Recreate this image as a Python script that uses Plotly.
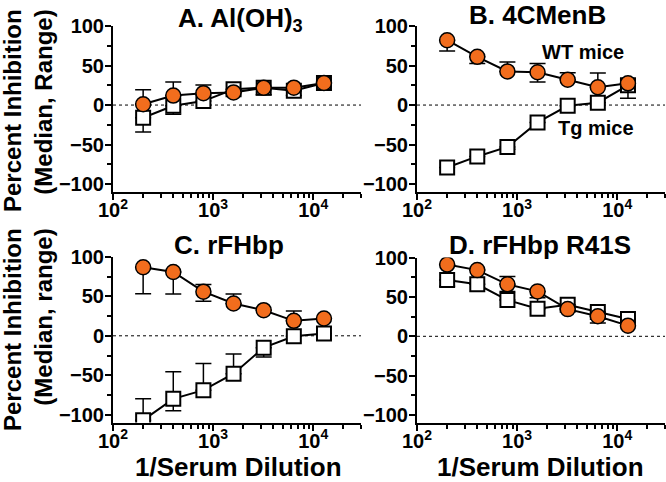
import plotly.graph_objects as go

# ---------------- data ----------------
dilution = [200, 400, 800, 1600, 3200, 6400, 12800]

# Panel A: Al(OH)3
wt_A = [1, 12, 15, 16, 22, 22, 28]
wt_A_plus = [18.5, 17, 10.5, 0, 0, 0, 0]
wt_A_minus = [0, 0, 0, 0, 0, 0, 0]
tg_A = [-16, -1, 5, 20, 22, 18, 28]
tg_A_plus = [0, 0, 0, 0, 0, 0, 0]
tg_A_minus = [18, 10.5, 0, 0, 9, 6, 0]

# Panel B: 4CMenB
wt_B = [82, 61, 42.5, 41.5, 32, 22.5, 27.5]
wt_B_plus = [0, 0, 12, 11, 9, 18, 0]
wt_B_minus = [13.5, 8.5, 0, 12.5, 0, 0, 19]
tg_B = [-79, -65, -53, -22, -1, 3, 25]
tg_B_plus = [0, 0, 0, 0, 0, 0, 8]
tg_B_minus = [0, 0, 3, 0, 0, 0, 0]

# Panel C: rFHbp
wt_C = [87, 81, 56, 41, 32.5, 19, 22]
wt_C_plus = [0, 0, 9, 12, 0, 12.5, 0]
wt_C_minus = [33.5, 28, 12, 0, 0, 0, 0]
tg_C = [-107, -80, -69, -48, -15, -0.5, 3]
tg_C_plus = [27, 34.5, 34, 25, 0, 0, 0]
tg_C_minus = [0, 15, 0, 0, 12, 0, 0]

# Panel D: rFHbp R41S
wt_D = [91, 84, 66, 57, 34.5, 25.5, 13.5]
wt_D_plus = [0, 0, 10, 0, 0, 0, 0]
wt_D_minus = [0, 0, 0, 0, 0, 8.5, 0]
tg_D = [71.5, 66, 46, 35, 40, 31, 22]
tg_D_plus = [0, 0, 11, 14, 0, 0, 0]
tg_D_minus = [8, 0, 0, 0, 0, 0, 0]

panel_titles = ["A. Al(OH)<sub>3</sub>", "B. 4CMenB", "C. rFHbp", "D. rFHbp R41S"]
x_major = [100, 1000, 10000]
x_major_text = ["10<sup>2</sup>", "10<sup>3</sup>", "10<sup>4</sup>"]
x_minor = [m * d for d in (100, 1000, 10000) for m in range(2, 10) if m * d <= 30000]
y_major = [-100, -50, 0, 50, 100]
y_minor = [-75, -25, 25, 75]

# ---------------- style ----------------
W, H = 666, 482
ORANGE = "#F26D1D"
FONT = "Liberation Sans, Arial, sans-serif"

def px_x(p):
    return p / W

def px_y(p):
    return 1 - p / H

panels = [
    dict(wt=wt_A, wp=wt_A_plus, wm=wt_A_minus, tg=tg_A, tp=tg_A_plus, tm=tg_A_minus,
         xd=[113, 361], yd=[26, 192]),
    dict(wt=wt_B, wp=wt_B_plus, wm=wt_B_minus, tg=tg_B, tp=tg_B_plus, tm=tg_B_minus,
         xd=[417, 665], yd=[26, 192]),
    dict(wt=wt_C, wp=wt_C_plus, wm=wt_C_minus, tg=tg_C, tp=tg_C_plus, tm=tg_C_minus,
         xd=[113, 361], yd=[257, 422.5]),
    dict(wt=wt_D, wp=wt_D_plus, wm=wt_D_minus, tg=tg_D, tp=tg_D_plus, tm=tg_D_minus,
         xd=[417, 665], yd=[257.5, 423]),
]

fig = go.Figure()
layout = dict(
    width=W, height=H,
    margin=dict(l=0, r=0, t=0, b=0, autoexpand=False),
    paper_bgcolor="white", plot_bgcolor="white",
    showlegend=False,
    font=dict(family=FONT, color="black", size=20, weight="bold"),
)

shapes = []
for i, p in enumerate(panels):
    n = i + 1
    xa = "x" if n == 1 else f"x{n}"
    ya = "y" if n == 1 else f"y{n}"
    err = dict(type="data", symmetric=False, color="black", thickness=1.5, width=8)
    fig.add_trace(go.Scatter(
        x=dilution, y=p["tg"], xaxis=xa, yaxis=ya, mode="lines+markers",
        line=dict(color="black", width=2),
        marker=dict(symbol="square", size=14, color="white", line=dict(color="black", width=2)),
        error_y=dict(err, array=p["tp"], arrayminus=p["tm"]),
    ))
    fig.add_trace(go.Scatter(
        x=dilution, y=p["wt"], xaxis=xa, yaxis=ya, mode="lines+markers",
        line=dict(color="black", width=2),
        marker=dict(symbol="circle", size=15, color=ORANGE, line=dict(color="black", width=1.5)),
        error_y=dict(err, array=p["wp"], arrayminus=p["wm"]),
    ))
    xkey = "xaxis" if n == 1 else f"xaxis{n}"
    ykey = "yaxis" if n == 1 else f"yaxis{n}"
    layout[xkey] = dict(
        type="log", range=[2, 4.4771], domain=[px_x(p["xd"][0]), px_x(p["xd"][1])],
        anchor=ya, showline=True, linecolor="black", linewidth=2, automargin=False,
        showgrid=False, zeroline=False,
        ticks="outside", ticklen=6, tickwidth=2, tickcolor="black",
        tickmode="array", tickvals=x_major, ticktext=x_major_text,
        ticklabelstandoff=-7,
        tickfont=dict(size=20, family=FONT, weight="bold"),
        minor=dict(ticks="outside", ticklen=4, tickwidth=1.5, tickcolor="black",
                   tickmode="array", tickvals=x_minor, showgrid=False),
    )
    layout[ykey] = dict(
        range=[-110, 100], domain=[px_y(p["yd"][1]), px_y(p["yd"][0])],
        anchor=xa, showline=True, linecolor="black", linewidth=2, automargin=False,
        showgrid=False, zeroline=False,
        ticks="outside", ticklen=6, tickwidth=2, tickcolor="black",
        tickmode="array", tickvals=y_major,
        ticklabelstandoff=-3,
        tickfont=dict(size=20, family=FONT, weight="bold"),
        minor=dict(ticks="outside", ticklen=4, tickwidth=1.5, tickcolor="black",
                   tickmode="array", tickvals=y_minor, showgrid=False),
    )
    shapes.append(dict(type="line", xref=f"{xa} domain", yref=ya, x0=0, x1=1, y0=0, y1=0,
                       line=dict(color="black", width=1, dash="dot"), layer="below"))

annotations = []
title_pos = [(240, 20), (537, 15), (229, 245), (540, 245)]
for t, (tx, ty) in zip(panel_titles, title_pos):
    annotations.append(dict(text=t, x=px_x(tx), y=px_y(ty), xref="paper", yref="paper",
                            xanchor="center", yanchor="middle", showarrow=False,
                            font=dict(size=26, family=FONT, weight="bold")))

for tx in (238, 540):
    annotations.append(dict(text="1/Serum Dilution", x=px_x(tx), y=px_y(467), xref="paper", yref="paper",
                            xanchor="center", yanchor="middle", showarrow=False,
                            font=dict(size=26, family=FONT, weight="bold")))

for txt, ty in (("Percent Inhibition<br>(Median, Range)", 111), ("Percent Inhibition<br>(Median, range)", 330)):
    annotations.append(dict(text=txt, x=px_x(28), y=px_y(ty), xref="paper", yref="paper",
                            xanchor="center", yanchor="middle", showarrow=False, textangle=-90,
                            align="right",
                            font=dict(size=24, family=FONT, weight="bold")))

annotations.append(dict(text="WT mice", x=px_x(583), y=px_y(52), xref="paper", yref="paper",
                        xanchor="center", yanchor="middle", showarrow=False,
                        font=dict(size=20, family=FONT, weight="bold")))
annotations.append(dict(text="Tg mice", x=px_x(596), y=px_y(128), xref="paper", yref="paper",
                        xanchor="center", yanchor="middle", showarrow=False,
                        font=dict(size=20, family=FONT, weight="bold")))

layout["annotations"] = annotations
layout["shapes"] = shapes
fig.update_layout(**layout)
fig.write_html("out.html", config={"displayModeBar": False},
               post_script="document.body.style.margin='0px';document.body.style.padding='0px';document.body.style.overflow='hidden';")
